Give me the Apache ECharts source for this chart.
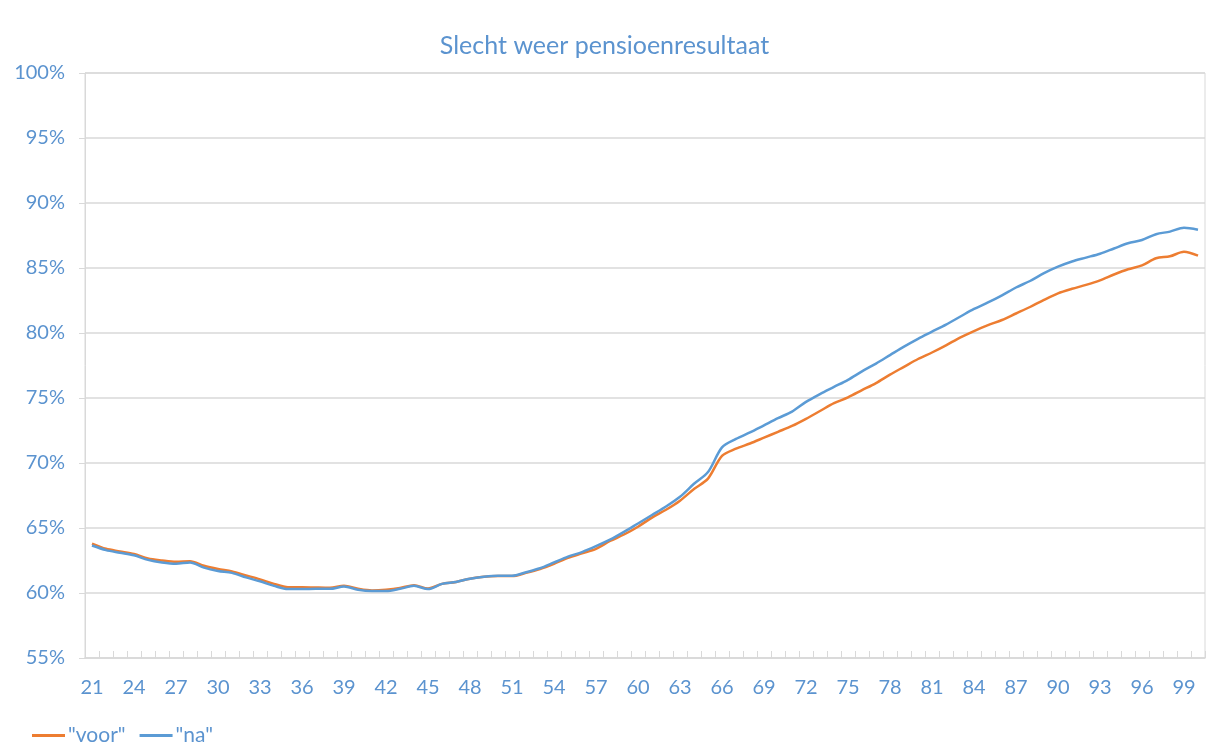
<!DOCTYPE html>
<html>
<head>
<meta charset="utf-8">
<script src="https://cdn.jsdelivr.net/npm/echarts@6/dist/echarts.min.js"></script>
<style>
  html, body { margin: 0; padding: 0; background: #fff; }
  #main { width: 1209px; height: 747px; }
</style>
</head>
<body>
<div id="main"></div>
<script>
// leeftijden 21 t/m 100
var ages = [];
for (var a = 21; a <= 100; a++) ages.push(String(a));

var voor = [
  63.8, 63.4, 63.2, 63.0, 62.65, 62.5, 62.4, 62.45, 62.1, 61.85,
  61.65, 61.35, 61.05, 60.7, 60.45, 60.45, 60.42, 60.4, 60.55, 60.33,
  60.2, 60.25, 60.38, 60.6, 60.35, 60.7, 60.85, 61.1, 61.25, 61.3,
  61.3, 61.55, 61.85, 62.25, 62.7, 63.05, 63.4, 64.0, 64.5, 65.1,
  65.8, 66.4, 67.1, 68.0, 68.8, 70.55, 71.1, 71.5, 71.95, 72.4,
  72.85, 73.4, 74.0, 74.6, 75.05, 75.6, 76.15, 76.8, 77.4, 78.0,
  78.5, 79.05, 79.65, 80.15, 80.6, 81.0, 81.5, 82.0, 82.55, 83.05,
  83.4, 83.7, 84.05, 84.5, 84.9, 85.2, 85.75, 85.9, 86.25, 85.95
];

var na = [
  63.65, 63.3, 63.1, 62.9, 62.55, 62.35, 62.25, 62.35, 61.95, 61.7,
  61.55, 61.2, 60.9, 60.55, 60.3, 60.3, 60.32, 60.32, 60.5, 60.25,
  60.15, 60.15, 60.32, 60.55, 60.3, 60.7, 60.85, 61.1, 61.25, 61.33,
  61.33, 61.6, 61.9, 62.35, 62.8, 63.15, 63.6, 64.1, 64.7, 65.35,
  66.0, 66.65, 67.4, 68.4, 69.3, 71.2, 71.85, 72.35, 72.9, 73.45,
  73.95, 74.7, 75.3, 75.85, 76.4, 77.05, 77.65, 78.3, 78.95, 79.55,
  80.1, 80.65, 81.25, 81.85, 82.35, 82.9, 83.5, 84.0, 84.6, 85.1,
  85.5, 85.8, 86.1, 86.5, 86.9, 87.15, 87.6, 87.8, 88.1, 87.95
];

var textBlue = "#5b93cf";
var lineGrey = "#d9d9d9";

var chart = echarts.init(document.getElementById("main"));
chart.setOption({
  animation: false,
  backgroundColor: "#fff",
  textStyle: { fontFamily: "Lato" },
  title: {
    text: "Slecht weer pensioenresultaat",
    left: "center",
    top: 28,
    textStyle: { color: textBlue, fontSize: 25, fontWeight: "normal", fontFamily: "Lato" },
  },
  legend: {
    left: 27,
    top: 720,
    icon: "rect",
    itemWidth: 33,
    itemHeight: 3,
    itemGap: 14,
    textStyle: { color: textBlue, fontSize: 21, padding: [0, 0, 0, -2] },
    data: ['"voor"', '"na"'],
  },
  grid: {
    left: 85,
    right: 4,
    top: 73,
    bottom: 89,
    show: true,
    borderColor: lineGrey,
    borderWidth: 1,
  },
  xAxis: {
    type: "category",
    boundaryGap: true,
    data: ages,
    axisLine: { lineStyle: { color: lineGrey, width: 1.5 } },
    axisTick: { show: true, inside: true, length: 7, interval: 0, lineStyle: { color: lineGrey } },
    axisLabel: { interval: 2, color: textBlue, fontSize: 20, margin: 20 },
  },
  yAxis: {
    type: "value",
    min: 55,
    max: 100,
    interval: 5,
    axisLine: { show: true, lineStyle: { color: lineGrey } },
    axisTick: { show: true, length: 6, lineStyle: { color: lineGrey } },
    axisLabel: { color: textBlue, fontSize: 20, margin: 20, formatter: "{value}%" },
    splitLine: { lineStyle: { color: lineGrey, width: 1.5 } },
  },
  series: [
    {
      name: '"voor"',
      type: "line",
      data: voor,
      symbol: "none",
      smooth: 0.3,
      lineStyle: { color: "#ed7d31", width: 2.5 },
      itemStyle: { color: "#ed7d31" },
    },
    {
      name: '"na"',
      type: "line",
      data: na,
      symbol: "none",
      smooth: 0.3,
      lineStyle: { color: "#5b9bd5", width: 2.5 },
      itemStyle: { color: "#5b9bd5" },
    },
  ],
});
</script>
</body>
</html>
